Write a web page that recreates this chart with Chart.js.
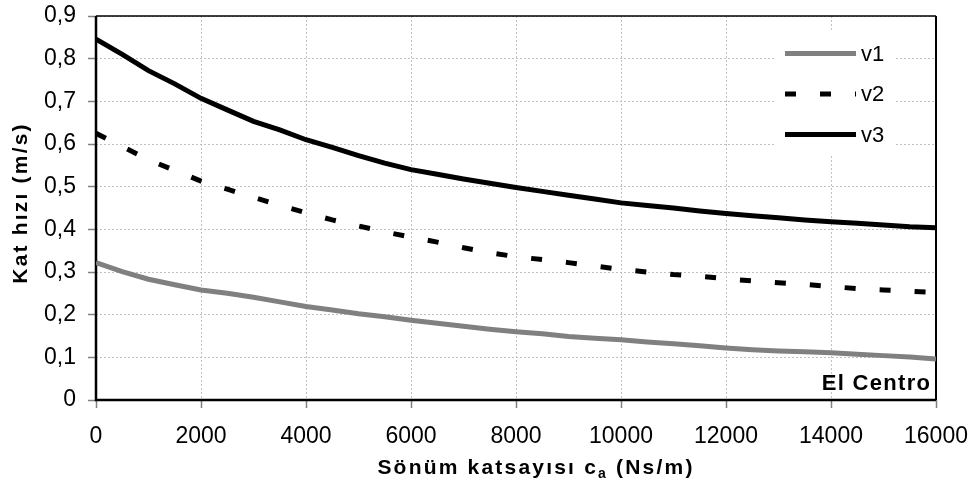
<!DOCTYPE html>
<html>
<head>
<meta charset="utf-8">
<script src="https://cdn.jsdelivr.net/npm/chart.js@4/dist/chart.umd.min.js"></script>
<style>
  html, body { margin: 0; padding: 0; background: #fff; }
  #wrap { width: 976px; height: 484px; }
</style>
</head>
<body>
<div id="wrap"><canvas id="c" width="976" height="484"></canvas></div>
<script>
// Damping coefficient c_a (Ns/m)
const dampingCoeff = [0, 500, 1000, 1500, 2000, 2500, 3000, 3500, 4000, 4500, 5000, 5500,
  6000, 6500, 7000, 7500, 8000, 8500, 9000, 9500, 10000, 10500, 11000, 11500,
  12000, 12500, 13000, 13500, 14000, 14500, 15000, 15500, 16000];

// Floor velocities (m/s)
const v1 = [0.322, 0.301, 0.283, 0.270, 0.258, 0.250, 0.241, 0.230, 0.219, 0.211, 0.202, 0.195,
  0.187, 0.180, 0.173, 0.166, 0.160, 0.155, 0.149, 0.145, 0.141, 0.136, 0.132, 0.127,
  0.122, 0.118, 0.115, 0.113, 0.111, 0.107, 0.104, 0.101, 0.096];
const v2 = [0.625, 0.594, 0.563, 0.538, 0.513, 0.494, 0.475, 0.456, 0.439, 0.422, 0.408, 0.394,
  0.382, 0.370, 0.357, 0.345, 0.336, 0.329, 0.322, 0.314, 0.306, 0.300, 0.294, 0.290,
  0.284, 0.279, 0.275, 0.271, 0.266, 0.261, 0.258, 0.255, 0.252];
const v3 = [0.846, 0.810, 0.772, 0.741, 0.707, 0.680, 0.653, 0.633, 0.610, 0.592, 0.573, 0.555,
  0.540, 0.529, 0.518, 0.508, 0.498, 0.489, 0.480, 0.471, 0.462, 0.456, 0.450, 0.443,
  0.437, 0.432, 0.427, 0.422, 0.418, 0.414, 0.410, 0.406, 0.404];

const seriesNames = ['v1', 'v2', 'v3'];

const xTickValues = [0, 2000, 4000, 6000, 8000, 10000, 12000, 14000, 16000];
const yTickValues = [0, 0.1, 0.2, 0.3, 0.4, 0.5, 0.6, 0.7, 0.8, 0.9];
const yTickLabels = ['0', '0,1', '0,2', '0,3', '0,4', '0,5', '0,6', '0,7', '0,8', '0,9'];

const xTitleParts = ['Sönüm katsayısı c', 'a', ' (Ns/m)'];
const yTitle = 'Kat hızı (m/s)';
const stationLabel = 'El Centro';

const FONT = '"Liberation Sans", Arial, sans-serif';

function toPoints(values) {
  return values.map((y, i) => ({ x: dampingCoeff[i], y }));
}

// Draw text character by character with extra tracking; returns the width used
function spacedWidth(ctx, text, spacing) {
  let w = 0;
  for (const ch of text) w += ctx.measureText(ch).width + spacing;
  return w;
}
function drawSpaced(ctx, text, x, y, spacing) {
  for (const ch of text) {
    ctx.fillText(ch, x, y);
    x += ctx.measureText(ch).width + spacing;
  }
  return x;
}

// Plot frame: black axes and border around the plotting area
const framePlugin = {
  id: 'frame',
  beforeDatasetsDraw(chart) {
    const { ctx, chartArea: a } = chart;
    ctx.save();
    ctx.strokeStyle = '#000';
    ctx.lineWidth = 1.5;
    ctx.beginPath();
    ctx.moveTo(a.left, a.top);
    ctx.lineTo(a.right, a.top);
    ctx.stroke();
    ctx.lineWidth = 2;
    ctx.beginPath();
    ctx.moveTo(a.right, a.top);
    ctx.lineTo(a.right, a.bottom);
    ctx.stroke();
    ctx.lineWidth = 2.5;
    ctx.beginPath();
    ctx.moveTo(a.left, a.top);
    ctx.lineTo(a.left, a.bottom);
    ctx.lineTo(a.right, a.bottom);
    ctx.stroke();
    ctx.restore();
  }
};

// Legend box inside the plot, built from the datasets
const insideLegend = {
  id: 'insideLegend',
  afterDatasetsDraw(chart) {
    const { ctx } = chart;
    const boxX = 775, boxY = 32, boxW = 120, boxH = 123;
    ctx.save();
    ctx.fillStyle = '#fff';
    ctx.fillRect(boxX, boxY, boxW, boxH);
    chart.data.datasets.forEach((ds, i) => {
      const y = 53.5 + i * 40.5;
      ctx.beginPath();
      ctx.strokeStyle = ds.borderColor;
      ctx.lineWidth = ds.borderWidth;
      ctx.setLineDash(ds.borderDash || []);
      ctx.lineCap = 'butt';
      ctx.moveTo(785, y);
      ctx.lineTo(856, y);
      ctx.stroke();
      ctx.setLineDash([]);
      ctx.fillStyle = '#000';
      ctx.font = '22px ' + FONT;
      ctx.textBaseline = 'middle';
      ctx.textAlign = 'left';
      ctx.fillText(ds.label, 861, y + 1);
    });
    ctx.restore();
  }
};

// Axis titles and station label
const titlesPlugin = {
  id: 'titles',
  afterDraw(chart) {
    const { ctx, chartArea: a } = chart;
    ctx.save();
    ctx.fillStyle = '#000';
    ctx.textBaseline = 'alphabetic';
    ctx.textAlign = 'left';

    // x-axis title with subscript
    const sp = 2.2;
    const big = 'bold 21px ' + FONT;
    const small = 'bold 14px ' + FONT;
    ctx.font = big;
    let w = spacedWidth(ctx, xTitleParts[0], sp) + spacedWidth(ctx, xTitleParts[2], sp);
    ctx.font = small;
    w += spacedWidth(ctx, xTitleParts[1], sp);
    let x = 536 - w / 2;
    const base = 474;
    ctx.font = big;
    x = drawSpaced(ctx, xTitleParts[0], x, base, sp);
    ctx.font = small;
    x = drawSpaced(ctx, xTitleParts[1], x, base + 4, sp);
    ctx.font = big;
    drawSpaced(ctx, xTitleParts[2], x, base, sp);

    // y-axis title, rotated
    ctx.save();
    ctx.translate(27, 203);
    ctx.rotate(-Math.PI / 2);
    ctx.font = big;
    const yw = spacedWidth(ctx, yTitle, sp);
    drawSpaced(ctx, yTitle, -yw / 2, 0, sp);
    ctx.restore();

    // station label in the lower right of the plot
    ctx.font = 'bold 22px ' + FONT;
    const sw = spacedWidth(ctx, stationLabel, 1.3) - 1.3;
    drawSpaced(ctx, stationLabel, a.right - 6 - sw, 390, 1.3);
    ctx.restore();
  }
};

new Chart(document.getElementById('c'), {
  type: 'line',
  data: {
    datasets: [
      { label: seriesNames[0], data: toPoints(v1), borderColor: '#808080', borderWidth: 5,
        pointRadius: 0, tension: 0, fill: false },
      { label: seriesNames[1], data: toPoints(v2), borderColor: '#000000', borderWidth: 5,
        borderDash: [11, 24], borderCapStyle: 'butt', pointRadius: 0, tension: 0, fill: false },
      { label: seriesNames[2], data: toPoints(v3), borderColor: '#000000', borderWidth: 5,
        pointRadius: 0, tension: 0, fill: false }
    ]
  },
  options: {
    responsive: false,
    animation: false,
    events: [],
    layout: { padding: { top: 16, right: 40, bottom: 0, left: 0 } },
    plugins: { legend: { display: false }, tooltip: { enabled: false } },
    scales: {
      x: {
        type: 'linear',
        min: 0,
        max: 16000,
        afterBuildTicks(scale) { scale.ticks = xTickValues.map(v => ({ value: v })); },
        afterFit(scale) {
          scale.height = 84;
          scale.paddingLeft = 0;
          scale.paddingRight = 0;
        },
        ticks: {
          autoSkip: false,
          maxRotation: 0,
          color: '#000',
          font: { family: FONT, size: 23 },
          padding: 15,
          callback: (v) => String(v)
        },
        grid: {
          color: '#c0c0c0',
          lineWidth: 1,
          tickColor: '#808080',
          tickLength: 8,
          tickWidth: 1.5
        },
        border: { display: false, dash: [2, 2] }
      },
      y: {
        min: 0,
        max: 0.9,
        afterBuildTicks(scale) { scale.ticks = yTickValues.map(v => ({ value: v })); },
        afterFit(scale) {
          scale.width = 96;
          scale.paddingTop = 0;
          scale.paddingBottom = 0;
        },
        ticks: {
          autoSkip: false,
          color: '#000',
          font: { family: FONT, size: 23 },
          padding: 12,
          callback: (v, i) => yTickLabels[i]
        },
        grid: {
          color: '#c0c0c0',
          lineWidth: 1,
          tickColor: '#808080',
          tickLength: 8,
          tickWidth: 1.5
        },
        border: { display: false, dash: [2, 2] }
      }
    }
  },
  plugins: [framePlugin, insideLegend, titlesPlugin]
});
</script>
</body>
</html>
